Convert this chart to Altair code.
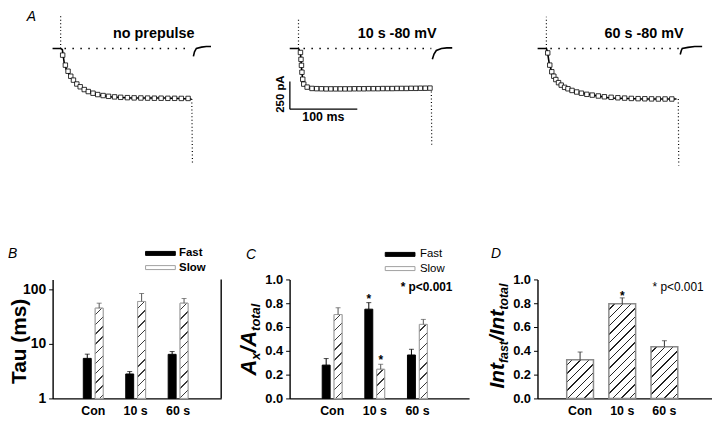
import math
import altair as alt

FONT = "Liberation Sans"

# ---------------- Panel A : current traces  (t = ms from step onset, i = pA)
p1_t = [-13, -9, -5, -1, 1.5, 4.4, 7.4, 11.8, 16, 23.5, 31, 41, 56, 75, 104, 129, 154, 175, 193]
p1_i = [0, 0, 0, 0, -9, -134, -188, -232, -277, -321, -357, -393, -420, -437, -446, -446, -446, -450, -455]
p1_tail_t = [195.9, 197.5, 200.3, 208, 215, 222]
p1_tail_i = [-71, -30, 0, 12, 18, 18]
p1_on_t, p1_on_i = [-1, -1], [0, 312]
p1_off_t, p1_off_i = [193.5, 194.5], [-455, -1036]
p1_base_t = [4.7, 193]
p1_sq_t = [2, 6, 10, 14, 18, 23, 28, 34, 40, 47, 54, 62, 70, 79, 88, 98, 108, 118, 128, 138, 148, 158, 168, 178, 188]
p1_sq_i = [-60, -150, -205, -250, -285, -320, -345, -370, -388, -403, -415, -424, -431, -436, -440, -443, -445,
           -446, -447, -448, -448, -449, -449, -450, -450]

p2_t = [-13, -6, 0, 2.9, 4.4, 5.9, 7.4, 13, 28, 76, 120, 160, 197]
p2_i = [0, 0, 0, -36, -170, -259, -321, -357, -366, -366, -362, -360, -357]
p2_tail_t = [198.5, 201, 204.4, 212, 220, 228]
p2_tail_i = [-98, -50, -18, 0, 5, 5]
p2_on_t, p2_on_i = [0, 0], [0, 268]
p2_off_t, p2_off_i = [197, 197.6], [-357, -866]
p2_base_t = [7.4, 197]
p2_sq_t = [2.9, 3.7, 4.4, 5.1, 6.3, 7.8, 12.8, 20, 27, 34, 41, 48, 55, 62, 69, 76, 83, 90, 97, 104, 111, 118,
           125, 132, 139, 146, 153, 160, 167, 174, 181, 188, 195]
p2_sq_i = [-36, -98, -152, -214, -277, -321, -348, -360, -362, -363, -364, -364, -364, -364, -364, -364, -363,
           -363, -363, -362, -362, -362, -361, -361, -361, -360, -360, -360, -359, -359, -358, -358, -357]

p3_t = [-13, -6, 0, 1.5, 4.4, 8.8, 13.2, 20.6, 32.4, 45.6, 69, 94, 120, 143, 170, 193]
p3_i = [0, 0, 0, -27, -143, -223, -277, -321, -357, -393, -420, -446, -450, -455, -455, -455]
p3_tail_t = [198.5, 200, 201.5, 210, 220, 231]
p3_tail_i = [-54, -20, 0, 10, 18, 18]
p3_on_t, p3_on_i = [0, 0], [0, 286]
p3_off_t, p3_off_i = [195.6, 196.3], [-455, -1054]
p3_base_t = [5.9, 197]
p3_sq_t = [2, 5, 8, 11, 14, 18, 22, 27, 32, 38, 45, 52, 60, 68, 77, 86, 96, 106, 116, 126, 136, 146, 156, 166, 176, 186]
p3_sq_i = [-40, -150, -210, -250, -280, -308, -330, -350, -363, -378, -392, -403, -413, -420, -428, -435, -440,
           -444, -447, -450, -452, -453, -454, -455, -455, -455]

trace_titles = ["no prepulse", "10 s  -80 mV", "60 s  -80 mV"]
panel_letters = ["A", "B", "C", "D"]

# scale bar (panel 2): 250 pA, 100 ms
sbar_t = [-12.8, 87.2]
sbar_i = [-297, -547]
sbar_labels = ["250 pA", "100 ms"]

# ---------------- Panels B-D
cats = ["Con", "10 s", "60 s"]
series = ["Fast", "Slow"]
tau_fast = [5.4, 2.8, 6.4]
tau_fast_err = [1.05, 0.3, 0.8]
tau_slow = [44.8, 59.3, 55.2]
tau_slow_err = [10.4, 23.7, 12.1]

amp_fast = [0.28, 0.75, 0.365]
amp_fast_err = [0.055, 0.055, 0.048]
amp_slow = [0.705, 0.245, 0.622]
amp_slow_err = [0.057, 0.042, 0.042]
amp_fast_star = ["", "*", ""]
amp_slow_star = ["", "*", ""]

int_fast = [0.325, 0.795, 0.435]
int_fast_err = [0.065, 0.05, 0.05]
int_star = ["", "*", ""]
p_note = "* p<0.001"

PX_PER_MS = 0.68
I_DOMAIN = [-1080, 331]
TOP_H = 158
BOT_H = 120


def hatch_fill(w, h, period, thick, color, bg="white"):
    w = max(w, 0.5)
    h = max(h, 0.5)
    span = (w + h) / math.sqrt(2.0)
    step = period / span
    d = thick / span
    stops = [{"offset": 0, "color": bg}]
    pos = step * 0.6
    while pos + d < 1:
        a, b = round(pos, 5), round(pos + d, 5)
        stops += [{"offset": a, "color": bg}, {"offset": a, "color": color},
                  {"offset": b, "color": color}, {"offset": b, "color": bg}]
        pos += step
    stops.append({"offset": 1, "color": bg})
    k = (w + h) / (w * w + h * h)
    return {"gradient": "linear", "x1": 0, "y1": 0, "x2": round(w * k, 5), "y2": round(h * k, 5), "stops": stops}


def txt(s, x, y, size, weight="bold", style="normal", align="left", baseline="middle", angle=0, data_key="s"):
    return alt.Chart(alt.Data(values=[{data_key: s}])).mark_text(
        font=FONT, fontSize=size, fontWeight=weight, fontStyle=style, align=align,
        baseline=baseline, angle=angle, color="black").encode(
        text=alt.Text(f"{data_key}:N"), x=alt.value(x), y=alt.value(y))


def trace_panel(t, i, tail_t, tail_i, on_t, on_i, off_t, off_i, base_t, sq_t, sq_i, x0, width, title,
                title_x, letter=None, extra=None):
    xs = alt.Scale(domain=[x0, x0 + width / PX_PER_MS], nice=False, zero=False)
    ys = alt.Scale(domain=I_DOMAIN, nice=False, zero=False)
    X = alt.X("t:Q", scale=xs, axis=None)
    Y = alt.Y("i:Q", scale=ys, axis=None)
    solid = [{"t": a, "i": b, "seg": "step"} for a, b in zip(t, i)] + \
            [{"t": a, "i": b, "seg": "tail"} for a, b in zip(tail_t, tail_i)]
    dotted = [{"t": a, "i": b, "seg": "on"} for a, b in zip(on_t, on_i)] + \
             [{"t": a, "i": b, "seg": "off"} for a, b in zip(off_t, off_i)]
    base = [{"t": a, "i": 0} for a in base_t]
    sq = [{"t": a, "i": b} for a, b in zip(sq_t, sq_i)]
    layers = [
        alt.Chart(alt.Data(values=base)).mark_line(color="black", strokeWidth=1.4, strokeDash=[1.5, 6.5]).encode(X, Y),
        alt.Chart(alt.Data(values=dotted)).mark_line(color="black", strokeWidth=1.2, strokeDash=[1, 2.5]).encode(
            X, Y, detail="seg:N"),
        alt.Chart(alt.Data(values=solid)).mark_line(color="black", strokeWidth=1.6).encode(X, Y, detail="seg:N"),
        alt.Chart(alt.Data(values=sq)).mark_point(shape="square", filled=True, fill="white", stroke="black",
                                                  strokeWidth=0.8, size=20, opacity=1).encode(X, Y),
        txt(title, title_x, 23, 14.5, align="center"),
    ]
    if letter:
        layers.append(txt(letter, -26, -2, 14, weight="normal", style="italic", baseline="top"))
    if extra:
        layers += extra(X, Y)
    return alt.layer(*layers).properties(width=width, height=TOP_H)


def scale_bar(X, Y):
    rows = [{"t": sbar_t[0], "t2": sbar_t[0], "i": sbar_i[0], "i2": sbar_i[1]},
            {"t": sbar_t[0], "t2": sbar_t[1], "i": sbar_i[1], "i2": sbar_i[1]}]
    bars = alt.Chart(alt.Data(values=rows)).mark_rule(color="black", strokeWidth=1.3).encode(
        X, alt.X2("t2"), Y, alt.Y2("i2"))
    lab1 = alt.Chart(alt.Data(values=[{"s": sbar_labels[0], "t": -25.7, "i": -411}])).mark_text(
        font=FONT, fontSize=11.5, fontWeight="bold", angle=270, align="center", baseline="middle").encode(
        X, Y, text="s:N")
    lab2 = alt.Chart(alt.Data(values=[{"s": sbar_labels[1], "t": 36.8, "i": -616}])).mark_text(
        font=FONT, fontSize=12.5, fontWeight="bold", align="center", baseline="middle").encode(
        X, Y, text="s:N")
    return [bars, lab1, lab2]


pA1 = trace_panel(p1_t, p1_i, p1_tail_t, p1_tail_i, p1_on_t, p1_on_i, p1_off_t, p1_off_i, p1_base_t,
                  p1_sq_t, p1_sq_i, -12.9, 157, trace_titles[0], 102, letter=panel_letters[0])
pA2 = trace_panel(p2_t, p2_i, p2_tail_t, p2_tail_i, p2_on_t, p2_on_i, p2_off_t, p2_off_i, p2_base_t,
                  p2_sq_t, p2_sq_i, -13.2, 159, trace_titles[1], 108.5, extra=scale_bar)
pA3 = trace_panel(p3_t, p3_i, p3_tail_t, p3_tail_i, p3_on_t, p3_on_i, p3_off_t, p3_off_i, p3_base_t,
                  p3_sq_t, p3_sq_i, -13.2, 170, trace_titles[2], 107.5)

# ---------------- shared bar-panel helpers
W_CHARS = {"A": .722, "x": .556, "/": .278, "t": .333, "o": .611, "a": .556, "l": .278, "I": .278,
           "n": .611, "f": .333, "s": .556}


def composite_title(pieces, x_base, y_start):
    """pieces: list of (text, size, is_sub) drawn rotated (reading upward)."""
    layers = []
    y = y_start
    for s, size, sub in pieces:
        layers.append(txt(s, x_base + (4 if sub else 0), y, size, style="italic", baseline="alphabetic",
                          angle=270))
        y -= sum(W_CHARS[c] for c in s) * size
    return layers


def xaxis():
    return alt.Axis(title=None, ticks=False, labelAngle=0, labelFont=FONT, labelFontSize=12.5,
                    labelFontWeight="bold", labelPadding=6, domainColor="black", domainWidth=1.4,
                    labelColor="black")


def yaxis(values, fmt, title=None, size=13):
    kw = {}
    if title:
        kw = dict(title=title, titleFont=FONT, titleFontSize=21, titleFontWeight="bold", titleAngle=270,
                  titleX=-33, titleY=62, titleAlign="center", titleBaseline="middle", titleColor="black")
    else:
        kw = dict(title=None)
    return alt.Axis(values=values, format=fmt, grid=False, tickSize=4, tickColor="black", tickWidth=1,
                    labelFont=FONT, labelFontSize=size, labelFontWeight="bold", labelPadding=3,
                    domainColor="black", domainWidth=1.4, labelColor="black", **kw)


def legend(lx, ly, loff, weight):
    return alt.Legend(orient="none", legendX=lx, legendY=ly, title=None, padding=0,
                      symbolType="M-3.75,-0.5H3.75V0.5H-3.75Z", symbolSize=64, symbolStrokeWidth=1,
                      labelOffset=loff, labelFont=FONT, labelFontSize=11.5, labelFontWeight=weight,
                      labelColor="black", rowPadding=1.3)


def grouped_panel(fast, fast_err, slow, slow_err, width, po, al, sub_po, sub_pi, yscale, yax, hfun,
                  leg, fast_star=None, slow_star=None):
    rows, hrows, srows = [], [], []
    for k, c in enumerate(cats):
        rows.append({"cat": c, "series": "Fast", "v": fast[k], "hi": fast[k] + fast_err[k],
                     "base": yscale.domain[0], "ec": "black"})
        rows.append({"cat": c, "series": "Slow", "v": slow[k], "hi": slow[k] + slow_err[k],
                     "base": yscale.domain[0], "ec": "#555555"})
        hrows.append({"cat": c, "series": "Slow", "v": slow[k], "base": yscale.domain[0],
                      "hatch": hatch_fill(8, hfun(slow[k]), 7, 1.0, "#3a3a3a")})
        if fast_star and fast_star[k]:
            srows.append({"cat": c, "series": "Fast", "hi": fast[k] + fast_err[k], "s": fast_star[k]})
        if slow_star and slow_star[k]:
            srows.append({"cat": c, "series": "Slow", "hi": slow[k] + slow_err[k], "s": slow_star[k]})
    ax = yax
    X = alt.X("cat:N", sort=cats, scale=alt.Scale(domain=cats, paddingInner=0, paddingOuter=po, align=al),
              axis=xaxis())
    XO = alt.XOffset("series:N", sort=series,
                     scale=alt.Scale(domain=series, paddingInner=sub_pi, paddingOuter=sub_po))
    base_bars = alt.Chart(alt.Data(values=rows)).mark_bar(strokeWidth=1).encode(
        X, XO, alt.Y("v:Q", scale=yscale, axis=ax, stack=None), alt.Y2("base"),
        fill=alt.Fill("series:N", scale=alt.Scale(domain=series, range=["black", "white"]), legend=leg),
        stroke=alt.Stroke("series:N", scale=alt.Scale(domain=series, range=["black", "#a0a0a0"]), legend=leg))
    hatch = alt.Chart(alt.Data(values=hrows)).mark_bar(stroke="#a0a0a0", strokeWidth=1).encode(
        X, XO, alt.Y("v:Q", scale=yscale, axis=ax, stack=None), alt.Y2("base"),
        fill=alt.Fill("hatch:N", scale=None, legend=None))
    err = alt.Chart(alt.Data(values=rows)).mark_rule(strokeWidth=1).encode(
        X, XO, alt.Y("v:Q", scale=yscale, axis=ax), alt.Y2("hi"), color=alt.Color("ec:N", scale=None))
    cap = alt.Chart(alt.Data(values=rows)).mark_tick(size=5, thickness=1).encode(
        X, XO, alt.Y("hi:Q", scale=yscale, axis=ax), color=alt.Color("ec:N", scale=None))
    layers = [base_bars, hatch, err, cap]
    if srows:
        layers.append(alt.Chart(alt.Data(values=srows)).mark_text(
            font=FONT, fontSize=12, fontWeight="bold", baseline="alphabetic", dy=0, color="black").encode(
            X, XO, alt.Y("hi:Q", scale=yscale, axis=ax), text="s:N"))
    return layers, X


# ---------------- B
ysB = alt.Scale(type="log", domain=[1, 150], nice=False)
hB = lambda v: BOT_H * math.log10(v) / math.log10(150)
layersB, XB = grouped_panel(tau_fast, tau_fast_err, tau_slow, tau_slow_err, 170, 0.486, 0.47, 0.95, 1 / 3,
                            ysB, yaxis([1, 10, 100], "d", title="Tau (ms)", size=14), hB,
                            legend(103, -32, 13, "bold"))
borderB = alt.Chart(alt.Data(values=[{"s": "edge"}])).mark_rule(color="black", strokeWidth=1.4).encode(
    x=alt.value(170), y=alt.value(0), y2=alt.value(BOT_H))
pB = alt.layer(*layersB, borderB, txt(panel_letters[1], -45, -33, 14, weight="normal", style="italic",
                                      baseline="top")).properties(width=170, height=BOT_H)

# ---------------- C
ysC = alt.Scale(domain=[0, 1], nice=False, zero=True)
hC = lambda v: BOT_H * v
layersC, XC = grouped_panel(amp_fast, amp_fast_err, amp_slow, amp_slow_err, 181, 0.605, 0.413, 0.834, 0.36,
                            ysC, yaxis([0, 0.2, 0.4, 0.6, 0.8, 1.0], ".1f"), hC,
                            legend(105.7, -31, 14.3, "normal"), amp_fast_star, amp_slow_star)
titleC = composite_title([("A", 22, False), ("x", 13, True), ("/", 22, False), ("A", 22, False),
                          ("total", 13, True)], -34, 97)
pC = alt.layer(*layersC, *titleC,
               txt(p_note, 112, 7.5, 12, align="left"),
               txt(panel_letters[2], -44, -32, 14, weight="normal", style="italic", baseline="top")
               ).properties(width=181, height=BOT_H)

# ---------------- D
rowsD = [{"cat": c, "v": int_fast[k], "hi": int_fast[k] + int_fast_err[k], "base": 0,
          "hatch": hatch_fill(27, BOT_H * int_fast[k], 6, 1.0, "#222222")} for k, c in enumerate(cats)]
starD = [{"cat": c, "hi": int_fast[k] + int_fast_err[k], "s": int_star[k]} for k, c in enumerate(cats)
         if int_star[k]]
XD = alt.X("cat:N", sort=cats, scale=alt.Scale(domain=cats, paddingInner=0, paddingOuter=0.57, align=0.448),
           axis=xaxis())
axD = yaxis([0, 0.2, 0.4, 0.6, 0.8, 1.0], ".1f")
ysD = alt.Scale(domain=[0, 1], nice=False, zero=True)
barsD = alt.Chart(alt.Data(values=rowsD)).mark_bar(size=27, stroke="#8a8a8a", strokeWidth=1.5).encode(
    XD, alt.Y("v:Q", scale=ysD, axis=axD), alt.Y2("base"), fill=alt.Fill("hatch:N", scale=None, legend=None))
errD = alt.Chart(alt.Data(values=rowsD)).mark_rule(color="#333333", strokeWidth=1).encode(
    XD, alt.Y("v:Q", scale=ysD, axis=axD), alt.Y2("hi"))
capD = alt.Chart(alt.Data(values=rowsD)).mark_tick(size=5, thickness=1, color="#333333").encode(
    XD, alt.Y("hi:Q", scale=ysD, axis=axD))
starDl = alt.Chart(alt.Data(values=starD)).mark_text(font=FONT, fontSize=12, fontWeight="bold",
                                                      baseline="alphabetic", dy=2, color="black").encode(
    XD, alt.Y("hi:Q", scale=ysD, axis=axD), text="s:N")
titleD = composite_title([("Int", 21, False), ("fast", 12.5, True), ("/", 21, False), ("Int", 21, False),
                          ("total", 12.5, True)], -34, 110)
pD = alt.layer(barsD, errD, capD, starDl, *titleD,
               txt(p_note, 116, 8, 12, weight="normal", align="left"),
               txt(panel_letters[3], -47, -33, 14, weight="normal", style="italic", baseline="top")
               ).properties(width=176, height=BOT_H)

chart = alt.concat(pA1, pA2, pA3, pB, pC, pD, columns=3, spacing={"row": 112, "column": 69},
                   align="none", bounds="flush").resolve_scale(
    x="independent", y="independent", fill="independent", stroke="independent", color="independent"
).properties(padding=0, background="white").configure_view(stroke=None).configure_axis(grid=False)

chart.save("out.html", embed_options={"renderer": "svg", "actions": False})
